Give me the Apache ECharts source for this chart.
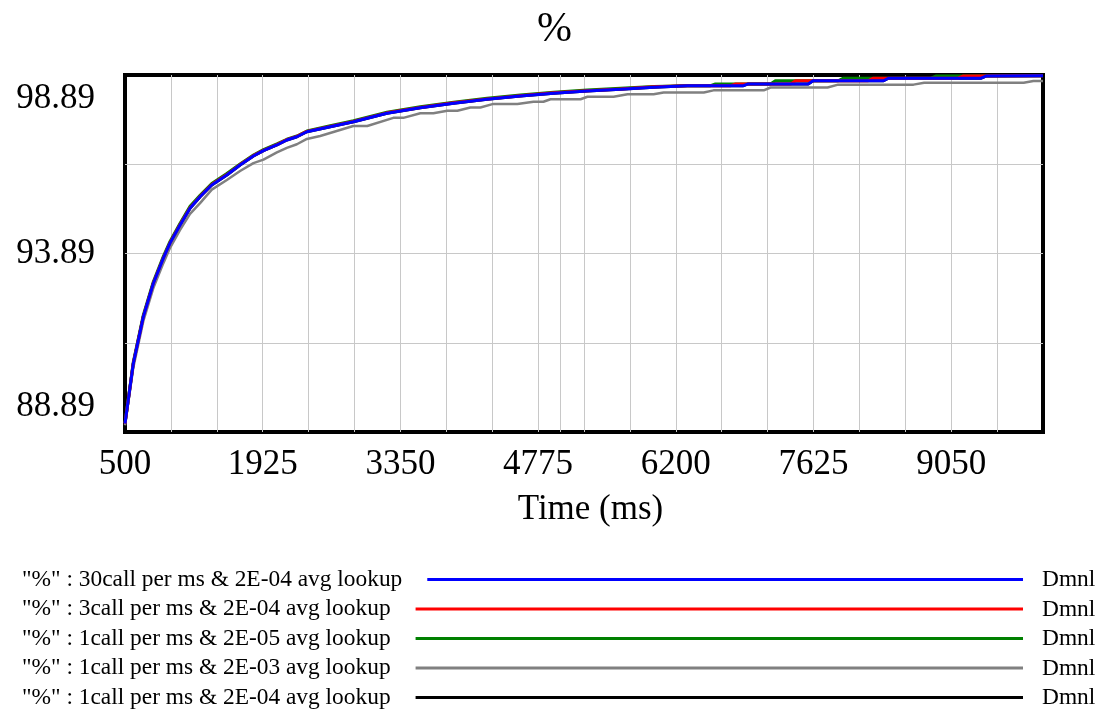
<!DOCTYPE html>
<html><head><meta charset="utf-8">
<script src="https://cdn.jsdelivr.net/npm/echarts@6/dist/echarts.min.js"></script>
<style>html,body{margin:0;padding:0;background:#fff}#c{width:1099px;height:709px}</style>
</head><body><div id="c"></div>
<script>
// ---------- data ----------
const seriesNames = [
  '"%" : 30call per ms & 2E-04 avg lookup',
  '"%" : 3call per ms & 2E-04 avg lookup',
  '"%" : 1call per ms & 2E-05 avg lookup',
  '"%" : 1call per ms & 2E-03 avg lookup',
  '"%" : 1call per ms & 2E-04 avg lookup'
];
const units = ['Dmnl', 'Dmnl', 'Dmnl', 'Dmnl', 'Dmnl'];

const timeBlue = [500, 586, 690, 793, 897, 966, 1070, 1173, 1277, 1398, 1554, 1691, 1829, 1933, 2072, 2175, 2279, 2382, 2624, 2865, 3211, 3556, 3901, 4247, 4592, 4937, 5283, 5628, 5973, 6319, 6900, 6950, 7570, 7620, 8350, 8400, 9360, 9410, 10000];
const valBlue  = [89.13, 90.81, 92.12, 93.05, 93.76, 94.18, 94.69, 95.16, 95.48, 95.81, 96.09, 96.37, 96.62, 96.77, 96.93, 97.07, 97.16, 97.30, 97.44, 97.58, 97.82, 97.97, 98.10, 98.21, 98.30, 98.38, 98.44, 98.49, 98.55, 98.59, 98.59, 98.64, 98.64, 98.73, 98.73, 98.80, 98.80, 98.86, 98.87];

const timeRed = [500, 586, 690, 793, 897, 966, 1070, 1173, 1277, 1398, 1554, 1691, 1829, 1933, 2072, 2175, 2279, 2382, 2624, 2865, 3211, 3556, 3901, 4247, 4592, 4937, 5283, 5628, 5973, 6319, 6770, 6820, 7390, 7440, 8190, 8240, 9120, 9170, 10000];
const valRed  = [89.13, 90.82, 92.13, 93.06, 93.77, 94.19, 94.70, 95.17, 95.49, 95.82, 96.10, 96.38, 96.63, 96.78, 96.94, 97.08, 97.17, 97.31, 97.45, 97.59, 97.83, 97.98, 98.11, 98.22, 98.31, 98.39, 98.45, 98.50, 98.56, 98.59, 98.59, 98.64, 98.64, 98.73, 98.73, 98.80, 98.80, 98.86, 98.87];

const timeGreen = [500, 586, 690, 793, 897, 966, 1070, 1173, 1277, 1398, 1554, 1691, 1829, 1933, 2072, 2175, 2279, 2382, 2624, 2865, 3211, 3556, 3901, 4247, 4592, 4937, 5283, 5628, 5973, 6319, 6560, 6610, 7180, 7230, 7880, 7930, 8840, 8890, 10000];
const valGreen  = [89.14, 90.85, 92.17, 93.10, 93.81, 94.23, 94.74, 95.21, 95.52, 95.85, 96.13, 96.40, 96.65, 96.80, 96.96, 97.09, 97.18, 97.32, 97.47, 97.61, 97.85, 98.00, 98.13, 98.24, 98.33, 98.41, 98.47, 98.52, 98.57, 98.59, 98.59, 98.64, 98.64, 98.73, 98.73, 98.80, 98.80, 98.86, 98.87];

const timeGray = [500, 586, 690, 793, 897, 966, 1070, 1173, 1277, 1398, 1554, 1691, 1829, 1933, 2072, 2175, 2279, 2382, 2520, 2862, 3007, 3277, 3380, 3556, 3691, 3836, 3940, 4074, 4178, 4312, 4561, 4727, 4830, 4903, 5214, 5286, 5556, 5701, 5970, 6074, 6490, 6590, 7110, 7180, 7770, 7880, 8660, 8770, 9800, 9900, 10000];
const valGray  = [89.08, 90.70, 92.00, 92.92, 93.62, 94.05, 94.55, 95.00, 95.30, 95.68, 95.95, 96.20, 96.42, 96.52, 96.72, 96.85, 96.95, 97.10, 97.18, 97.46, 97.46, 97.69, 97.69, 97.82, 97.82, 97.89, 97.89, 97.98, 97.98, 98.08, 98.08, 98.14, 98.14, 98.21, 98.21, 98.28, 98.28, 98.35, 98.35, 98.40, 98.40, 98.46, 98.46, 98.54, 98.54, 98.62, 98.62, 98.67, 98.67, 98.72, 98.72];

const timeBlack = timeBlue;
const valBlack  = [89.13, 90.81, 92.12, 93.05, 93.76, 94.18, 94.69, 95.16, 95.48, 95.81, 96.09, 96.37, 96.62, 96.77, 96.93, 97.07, 97.16, 97.30, 97.44, 97.58, 97.82, 97.97, 98.10, 98.21, 98.30, 98.38, 98.44, 98.49, 98.55, 98.59, 98.59, 98.64, 98.64, 98.73, 98.73, 98.80, 98.80, 98.86, 98.87];

const xTickLabels = [500, 1925, 3350, 4775, 6200, 7625, 9050];
const xGridValues = [975, 1450, 1925, 2400, 2875, 3350, 3825, 4300, 4775, 5000, 5250, 5725, 6200, 6675, 7150, 7625, 8100, 8575, 9050, 9525];
const yTickLabels = [88.89, 93.89, 98.89];
const yGridValues = [91.39, 93.89, 96.39];

// ---------- styling ----------
const FONT = '"Liberation Serif", "Times New Roman", serif';
const colors = ['#0000ff', '#ff0000', '#008000', '#808080', '#000000'];
const times = [timeBlue, timeRed, timeGreen, timeGray, timeBlack];
const vals = [valBlue, valRed, valGreen, valGray, valBlack];
const legendRowY = [580, 609.5, 639, 668.5, 698];
const LEG_FONT = 23.4, LEG_LEFT = 22, LEG_LINE_END = 1023, LEG_GAP = 20;

const zip = (t, v) => t.map((x, i) => [x, v[i]]);

const mctx = document.createElement('canvas').getContext('2d');
mctx.font = LEG_FONT + 'px "Liberation Serif"';

const drawOrder = [4, 3, 2, 1, 0];
const series = drawOrder.map(i => ({
  name: seriesNames[i],
  type: 'line',
  data: zip(times[i], vals[i]),
  showSymbol: false,
  symbol: 'none',
  color: colors[i],
  lineStyle: { color: colors[i], width: i === 3 ? 2.5 : 3 },
  animation: false,
  z: 3
}));

const legends = seriesNames.map((n, i) => {
  const w = mctx.measureText(n).width;
  return {
    data: [n],
    icon: 'rect',
    left: LEG_LEFT,
    top: legendRowY[i] - 12,
    align: 'right',
    padding: 0,
    itemGap: 0,
    itemWidth: LEG_LINE_END - (LEG_LEFT + w + LEG_GAP + 5),
    itemHeight: 3,
    selectedMode: false,
    itemStyle: { color: colors[i], borderWidth: 0 },
    textStyle: { fontFamily: FONT, fontSize: LEG_FONT, color: '#000', padding: [0, LEG_GAP, 0, 0] }
  };
});

const chart = echarts.init(document.getElementById('c'), null, { renderer: 'canvas' });
chart.setOption({
  animation: false,
  backgroundColor: '#fff',
  title: {
    text: '%', left: 537, top: 9, padding: 0,
    textStyle: { fontFamily: FONT, fontSize: 42, fontWeight: 'normal', color: '#000' }
  },
  grid: {
    left: 125, right: 56, top: 75, bottom: 277,
    show: true, borderColor: '#000', borderWidth: 4, backgroundColor: 'transparent'
  },
  xAxis: {
    type: 'value', min: 500, max: 10000,
    name: 'Time (ms)', nameLocation: 'middle', nameGap: 60,
    nameTextStyle: { fontFamily: FONT, fontSize: 35, color: '#000', padding: [0, 0, 0, 13] },
    axisLine: { show: false },
    axisTick: { show: false, customValues: xGridValues },
    splitLine: { show: true, lineStyle: { color: '#c8c8c8', width: 1 } },
    axisLabel: { customValues: xTickLabels, margin: 15, fontFamily: FONT, fontSize: 35, color: '#000',
      formatter: v => String(v) }
  },
  yAxis: {
    type: 'value', min: 88.89, max: 98.89,
    axisLine: { show: false },
    axisTick: { show: false, customValues: yGridValues },
    splitLine: { show: true, lineStyle: { color: '#c8c8c8', width: 1 } },
    axisLabel: {
      customValues: yTickLabels, margin: 30, fontFamily: FONT, fontSize: 35, color: '#000',
      formatter: v => {
        const s = v.toFixed(2);
        if (v > 98) return '{t|' + s + '}';
        if (v < 89) return '{b|' + s + '}';
        return '{m|' + s + '}';
      },
      rich: {
        t: { fontFamily: FONT, fontSize: 35, color: '#000', padding: [47, 0, 0, 0] },
        m: { fontFamily: FONT, fontSize: 35, color: '#000' },
        b: { fontFamily: FONT, fontSize: 35, color: '#000', padding: [0, 0, 50, 0] }
      }
    }
  },
  legend: legends,
  graphic: units.map((u, i) => ({
    type: 'text', x: 1042, y: legendRowY[i],
    style: { text: u, font: LEG_FONT + 'px "Liberation Serif"', fill: '#000', verticalAlign: 'middle', align: 'left' }
  })),
  series: series
});
</script>
</body></html>
